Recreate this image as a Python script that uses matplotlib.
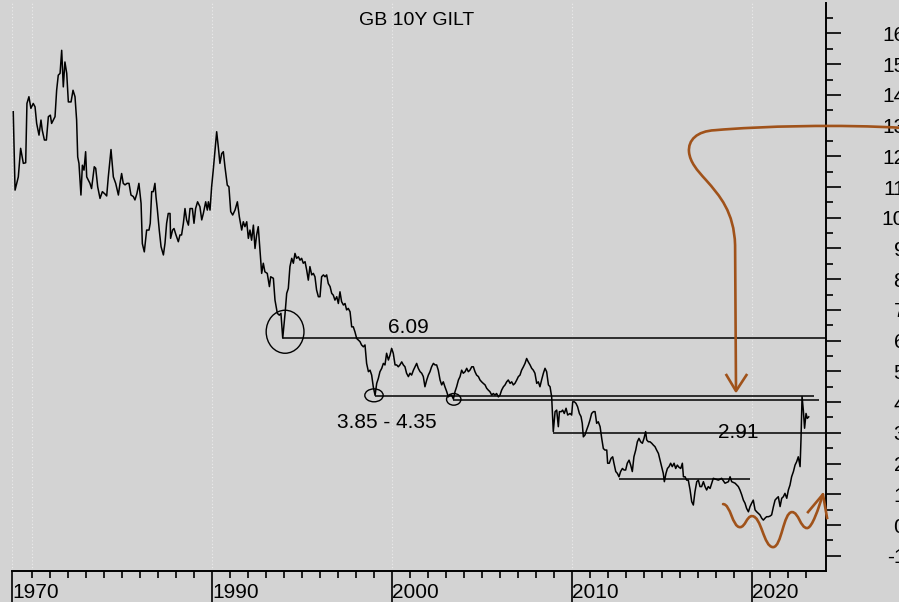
import matplotlib.pyplot as plt
from matplotlib.patches import Ellipse, PathPatch
from matplotlib.path import Path
import numpy as np

plt.rcParams["font.family"] = ["Liberation Sans", "DejaVu Sans"]

# GB 10Y gilt yield (decimal year, %)
years = [
    1978.96, 1979.06, 1979.24, 1979.37, 1979.52, 1979.65, 1979.72, 1979.83, 1979.94, 1980.07,
    1980.17, 1980.26, 1980.39, 1980.50, 1980.57, 1980.69, 1980.80, 1980.91, 1981.02, 1981.09,
    1981.28, 1981.37, 1981.46, 1981.56, 1981.65, 1981.74, 1981.83, 1981.93, 1982.02, 1982.17,
    1982.28, 1982.39, 1982.48, 1982.54, 1982.61, 1982.72, 1982.80, 1982.89, 1982.98, 1983.04,
    1983.22, 1983.31, 1983.46, 1983.54, 1983.65, 1983.78, 1983.91, 1984.06, 1984.15, 1984.24,
    1984.39, 1984.52, 1984.65, 1984.80, 1984.89, 1984.98, 1985.07, 1985.17, 1985.28, 1985.39,
    1985.50, 1985.63, 1985.72, 1985.83, 1985.94, 1986.06, 1986.13, 1986.24, 1986.37, 1986.50,
    1986.57, 1986.65, 1986.74, 1986.83, 1986.89, 1986.96, 1987.07, 1987.17, 1987.30, 1987.39,
    1987.48, 1987.57, 1987.67, 1987.70, 1987.81, 1987.89, 1988.00, 1988.13, 1988.22, 1988.31,
    1988.41, 1988.50, 1988.59, 1988.69, 1988.78, 1988.91, 1989.00, 1989.09, 1989.20, 1989.33,
    1989.43, 1989.52, 1989.65, 1989.74, 1989.80, 1989.89, 1989.98, 1990.07, 1990.17, 1990.26,
    1990.35, 1990.44, 1990.54, 1990.63, 1990.72, 1990.85, 1990.94, 1991.04, 1991.15, 1991.28,
    1991.41, 1991.52, 1991.65, 1991.74, 1991.83, 1991.93, 1992.02, 1992.11, 1992.20, 1992.30,
    1992.39, 1992.48, 1992.57, 1992.67, 1992.76, 1992.85, 1992.94, 1993.07, 1993.19, 1993.26,
    1993.41, 1993.50, 1993.63, 1993.74, 1993.83, 1993.93, 1994.06, 1994.15, 1994.24, 1994.33,
    1994.43, 1994.52, 1994.61, 1994.70, 1994.80, 1994.89, 1994.98, 1995.07, 1995.17, 1995.26,
    1995.35, 1995.44, 1995.54, 1995.63, 1995.72, 1995.81, 1995.91, 1996.00, 1996.09, 1996.19,
    1996.28, 1996.37, 1996.46, 1996.56, 1996.65, 1996.74, 1996.83, 1996.93, 1997.02, 1997.11,
    1997.20, 1997.30, 1997.39, 1997.48, 1997.57, 1997.67, 1997.76, 1997.85, 1997.94, 1998.04,
    1998.13, 1998.22, 1998.31, 1998.41, 1998.50, 1998.59, 1998.69, 1998.78, 1998.87, 1998.96,
    1999.06, 1999.15, 1999.24, 1999.33, 1999.43, 1999.52, 1999.61, 1999.70, 1999.80, 1999.89,
    1999.98, 2000.07, 2000.17, 2000.26, 2000.35, 2000.44, 2000.54, 2000.63, 2000.72, 2000.81,
    2000.91, 2001.00, 2001.09, 2001.19, 2001.28, 2001.37, 2001.46, 2001.56, 2001.65, 2001.74,
    2001.83, 2001.93, 2002.02, 2002.11, 2002.20, 2002.30, 2002.39, 2002.48, 2002.57, 2002.67,
    2002.76, 2002.85, 2002.94, 2003.04, 2003.13, 2003.22, 2003.31, 2003.41, 2003.50, 2003.59,
    2003.69, 2003.78, 2003.87, 2003.96, 2004.06, 2004.15, 2004.24, 2004.33, 2004.43, 2004.52,
    2004.61, 2004.70, 2004.80, 2004.89, 2004.98, 2005.07, 2005.17, 2005.26, 2005.35, 2005.44,
    2005.54, 2005.63, 2005.72, 2005.81, 2005.91, 2006.00, 2006.09, 2006.19, 2006.28, 2006.37,
    2006.46, 2006.56, 2006.65, 2006.74, 2006.83, 2006.93, 2007.02, 2007.11, 2007.20, 2007.30,
    2007.39, 2007.48, 2007.57, 2007.67, 2007.76, 2007.85, 2007.94, 2008.04, 2008.13, 2008.22,
    2008.31, 2008.41, 2008.50, 2008.59, 2008.69, 2008.78, 2008.87, 2008.96, 2009.06, 2009.15,
    2009.24, 2009.30, 2009.41, 2009.48, 2009.57, 2009.67, 2009.76, 2009.89, 2009.98, 2010.04,
    2010.13, 2010.22, 2010.31, 2010.41, 2010.50, 2010.57, 2010.63, 2010.72, 2010.81, 2010.91,
    2011.00, 2011.09, 2011.19, 2011.28, 2011.37, 2011.46, 2011.56, 2011.65, 2011.74, 2011.83,
    2011.93, 2011.98, 2012.07, 2012.17, 2012.26, 2012.33, 2012.43, 2012.52, 2012.61, 2012.70,
    2012.80, 2012.89, 2012.98, 2013.07, 2013.17, 2013.26, 2013.35, 2013.44, 2013.54, 2013.63,
    2013.72, 2013.81, 2013.91, 2014.00, 2014.09, 2014.15, 2014.24, 2014.33, 2014.43, 2014.52,
    2014.61, 2014.70, 2014.80, 2014.89, 2014.98, 2015.07, 2015.13, 2015.22, 2015.30, 2015.39,
    2015.48, 2015.57, 2015.67, 2015.76, 2015.85, 2015.94, 2016.04, 2016.13, 2016.19, 2016.28,
    2016.37, 2016.46, 2016.56, 2016.65, 2016.74, 2016.83, 2016.93, 2017.02, 2017.11, 2017.20,
    2017.30, 2017.39, 2017.48, 2017.57, 2017.67, 2017.85, 2018.13, 2018.31, 2018.50, 2018.69,
    2018.78, 2018.87, 2019.06, 2019.24, 2019.33, 2019.43, 2019.52, 2019.61, 2019.70, 2019.80,
    2019.89, 2019.98, 2020.07, 2020.17, 2020.26, 2020.35, 2020.44, 2020.54, 2020.63, 2020.72,
    2020.81, 2020.91, 2021.00, 2021.09, 2021.19, 2021.28, 2021.37, 2021.46, 2021.56, 2021.65,
    2021.74, 2021.83, 2021.93, 2022.02, 2022.11, 2022.20, 2022.30, 2022.39, 2022.48, 2022.57,
    2022.67, 2022.72, 2022.78, 2022.85, 2022.92, 2023.00, 2023.07, 2023.15,
]
yields = [
    13.45, 10.90, 11.33, 12.26, 11.77, 11.79, 13.72, 13.94, 13.56, 13.72,
    13.61, 13.07, 12.69, 13.18, 12.85, 12.53, 12.53, 13.29, 13.34, 13.07,
    13.29, 14.15, 14.64, 14.70, 15.45, 14.26, 15.07, 14.70, 13.77, 13.77,
    14.15, 13.94, 13.18, 11.98, 11.77, 10.74, 11.71, 11.55, 12.15, 11.33,
    11.12, 10.95, 11.66, 11.61, 11.01, 10.63, 10.85, 10.77, 10.71, 11.33,
    12.22, 11.33, 11.12, 10.74, 11.12, 11.44, 11.12, 11.07, 11.12, 11.12,
    10.74, 10.69, 10.58, 10.79, 11.12, 10.47, 9.16, 8.89, 9.60, 9.60,
    9.82, 10.85, 10.85, 11.12, 10.68, 10.30, 9.60, 9.06, 8.79, 9.17,
    9.82, 10.14, 10.14, 9.33, 9.60, 9.65, 9.44, 9.22, 9.44, 9.44,
    9.82, 10.30, 9.93, 9.76, 10.30, 10.30, 9.82, 10.30, 10.52, 10.36,
    9.93, 10.14, 10.52, 10.25, 10.52, 10.25, 11.01, 11.55, 12.20, 12.80,
    12.31, 11.77, 12.09, 12.15, 11.66, 11.06, 11.01, 10.20, 10.09, 10.25,
    10.52, 10.03, 9.60, 9.87, 9.71, 9.87, 9.33, 9.60, 9.27, 9.76,
    9.00, 9.44, 9.71, 8.89, 8.19, 8.52, 8.24, 8.19, 7.76, 8.08,
    8.03, 7.32, 6.89, 6.83, 6.89, 6.08, 6.89, 7.54, 7.70, 8.41,
    8.68, 8.52, 8.84, 8.68, 8.73, 8.62, 8.68, 8.52, 8.57, 8.30,
    7.97, 8.41, 8.14, 8.19, 8.08, 7.65, 7.43, 7.43, 8.08, 8.14,
    8.08, 8.14, 7.86, 7.76, 7.54, 7.48, 7.32, 7.43, 7.21, 7.59,
    7.27, 7.16, 7.21, 7.00, 7.05, 6.94, 6.45, 6.45, 6.29, 6.07,
    6.02, 5.97, 5.86, 5.80, 5.86, 5.26, 4.99, 5.04, 4.88, 4.50,
    4.22, 4.61, 4.77, 4.99, 5.10, 5.26, 5.21, 5.59, 5.37, 5.53,
    5.75, 5.59, 5.21, 5.21, 5.15, 5.21, 5.31, 5.21, 5.15, 4.94,
    4.83, 4.94, 4.88, 5.04, 5.15, 5.26, 5.10, 4.99, 4.94, 4.83,
    4.50, 4.72, 4.88, 4.99, 5.15, 5.26, 5.21, 5.21, 5.04, 4.72,
    4.56, 4.66, 4.50, 4.34, 4.17, 4.23, 4.23, 4.10, 4.34, 4.50,
    4.72, 4.83, 5.04, 4.94, 4.99, 5.10, 4.99, 5.04, 5.15, 5.15,
    4.99, 4.88, 4.83, 4.72, 4.66, 4.61, 4.56, 4.45, 4.39, 4.34,
    4.23, 4.28, 4.23, 4.28, 4.17, 4.23, 4.39, 4.50, 4.56, 4.66,
    4.72, 4.61, 4.66, 4.56, 4.61, 4.72, 4.83, 4.88, 5.04, 5.15,
    5.26, 5.42, 5.31, 5.21, 5.10, 5.04, 4.94, 4.61, 4.66, 4.50,
    4.72, 4.94, 5.10, 4.99, 4.56, 4.50, 4.17, 3.04, 3.69, 3.74,
    3.20, 3.69, 3.69, 3.74, 3.63, 3.80, 3.58, 3.63, 3.58, 4.01,
    4.01, 3.96, 3.85, 3.63, 3.53, 3.31, 2.87, 2.93, 3.09, 3.25,
    3.42, 3.63, 3.69, 3.69, 3.31, 3.36, 3.20, 2.82, 2.49, 2.44,
    2.44, 2.01, 2.01, 2.17, 2.22, 2.01, 1.74, 1.68, 1.57, 1.74,
    1.84, 1.79, 1.79, 2.01, 2.11, 1.95, 1.74, 2.22, 2.44, 2.71,
    2.82, 2.71, 2.66, 2.82, 3.04, 2.77, 2.71, 2.71, 2.66, 2.60,
    2.55, 2.44, 2.33, 2.11, 1.90, 1.68, 1.41, 1.68, 1.84, 1.90,
    2.01, 1.90, 2.01, 1.84, 1.95, 1.88, 1.84, 2.01, 1.57, 1.57,
    1.46, 1.46, 1.14, 0.76, 0.65, 1.08, 1.41, 1.46, 1.25, 1.25,
    1.41, 1.25, 1.14, 1.25, 1.19, 1.52, 1.46, 1.52, 1.36, 1.41,
    1.57, 1.41, 1.36, 1.25, 1.14, 0.98, 0.81, 0.71, 0.54, 0.43,
    0.60, 0.71, 0.81, 0.49, 0.43, 0.38, 0.33, 0.22, 0.16, 0.22,
    0.27, 0.27, 0.29, 0.33, 0.60, 0.81, 0.87, 0.92, 0.60, 0.87,
    0.92, 1.03, 0.87, 1.14, 1.30, 1.57, 1.74, 1.95, 2.06, 2.22,
    1.90, 2.77, 4.18, 3.74, 3.15, 3.63, 3.47, 3.52,
]

# horizontal support / resistance lines
level_values = [6.09, 4.19, 4.07, 2.98, 1.49]
level_starts = [1993.93, 1999.06, 2003.40, 2008.96, 2012.61]
level_ends = [2024.11, 2023.44, 2023.72, 2024.11, 2019.90]

# circled lows
circle_x = [1994.06, 1999.00, 2003.43]
circle_y = [6.29, 4.22, 4.09]
circle_w = [2.10, 1.02, 0.80]
circle_h = [1.40, 0.42, 0.38]

# text labels on the chart
label_texts = ["6.09", "3.85 - 4.35", "2.91"]
label_x = [1999.78, 1996.94, 2018.11]
label_y = [6.25, 3.16, 2.83]

# axis ticks
major_years = [1978.9, 1990, 2000, 2010, 2020]
major_labels = ["1970", "1990", "2000", "2010", "2020"]
minor_years = [y for y in range(1980, 2024) if y % 10 != 0 or y == 1980]
grid_years = [1978.9, 1980, 1990, 2000, 2010, 2020]
y_major = list(range(-1, 17))

# hand-drawn arrow (brown), points in data coords
loop_pts = [
    (2028.5, 12.92), (2024.89, 13.05), (2020.44, 12.98), (2017.94, 12.85),
    (2016.94, 12.82), (2016.44, 12.53), (2016.50, 12.14),
    (2016.56, 11.81), (2016.94, 11.55), (2017.44, 11.23),
    (2018.22, 10.71), (2019.00, 10.19), (2019.06, 9.11),
    (2019.11, 4.40),
]
loop_codes = [Path.MOVETO] + [Path.CURVE4] * 12 + [Path.LINETO]
loop_head = [(2018.58, 4.88), (2019.11, 4.36), (2019.69, 4.88)]

wave_pts = [(2018.39, 0.68), (2019.33, -0.07), (2020.00, 0.29), (2021.17, -0.72),
            (2022.22, 0.42), (2023.06, -0.10), (2023.94, 1.00)]
wave_head = [(2023.11, 0.42), (2023.94, 1.00), (2024.17, 0.23)]

BG = "#d3d3d3"
BROWN = "#a0521a"

fig = plt.figure(figsize=(8.99, 6.02), dpi=100)
fig.patch.set_facecolor(BG)
ax = fig.add_axes([12 / 899, 31 / 602, 814 / 899, 568 / 602])
ax.set_facecolor(BG)
ax.set_xlim(1978.89, 2024.11)
ax.set_ylim(-1.497, 16.99)

for gx in grid_years:
    ax.axvline(gx, color="#ececec", lw=0.8, ls=(0, (1, 2)), zorder=0)

ax.plot(years, yields, color="black", lw=1.1, zorder=3)

for v, s, e in zip(level_values, level_starts, level_ends):
    ax.hlines(v, s, e, color="black", lw=1.1, zorder=3)

for cx, cy, w, h in zip(circle_x, circle_y, circle_w, circle_h):
    ax.add_patch(Ellipse((cx, cy), w, h, fill=False, ec="black", lw=1.0, zorder=4))

for t, lx, ly in zip(label_texts, label_x, label_y):
    ax.text(lx, ly, t, fontsize=15, ha="left", va="baseline", zorder=5)

ax.text(0.497, 0.984, "GB 10Y GILT", transform=ax.transAxes, ha="center",
        va="top", fontsize=14)

# brown annotations
ax.add_patch(PathPatch(Path(loop_pts, loop_codes), fill=False, ec=BROWN, lw=1.9,
                       clip_on=False, zorder=6, capstyle="round"))
hx, hy = zip(*loop_head)
ax.plot(hx, hy, color=BROWN, lw=1.9, clip_on=False, zorder=6)

wv = [wave_pts[0]]
wc = [Path.MOVETO]
pairs = list(zip(wave_pts[:-1], wave_pts[1:]))
for i, ((x0, y0), (x1, y1)) in enumerate(pairs):
    d = (x1 - x0) * 0.45
    if i == len(pairs) - 1:
        # last stroke runs fairly straight up into the arrow tip
        wv += [(x0 + d * 0.7, y0), (x1 - d * 0.6, y1 - 0.45), (x1, y1)]
    else:
        wv += [(x0 + d, y0), (x1 - d, y1), (x1, y1)]
    wc += [Path.CURVE4] * 3
ax.add_patch(PathPatch(Path(wv, wc), fill=False, ec=BROWN, lw=1.9,
                       clip_on=False, zorder=6, capstyle="round"))
hx, hy = zip(*wave_head)
ax.plot(hx, hy, color=BROWN, lw=1.9, clip_on=False, zorder=6)

# spines and ticks
for side in ["left", "top"]:
    ax.spines[side].set_visible(False)
for side in ["bottom", "right"]:
    ax.spines[side].set_linewidth(1.4)

ax.yaxis.tick_right()
ax.set_yticks(y_major)
ax.set_yticklabels([str(v) for v in y_major])
ax.set_yticks(np.arange(-0.5, 17, 1.0), minor=True)
ax.tick_params(axis="y", which="major", direction="out", length=11, width=1.2,
               pad=46, labelsize=15)
ax.tick_params(axis="y", which="minor", direction="out", length=5, width=1.2)
for lbl in ax.get_yticklabels():
    lbl.set_horizontalalignment("right")

ax.set_xticks(major_years)
ax.set_xticklabels(major_labels, ha="left")
ax.set_xticks(minor_years, minor=True)
ax.tick_params(axis="x", which="major", direction="out", length=26, width=1.2,
               pad=-17.5, labelsize=15)
ax.tick_params(axis="x", which="minor", direction="out", length=5, width=1.2)

fig.savefig("out.png", dpi=100, facecolor=BG)
